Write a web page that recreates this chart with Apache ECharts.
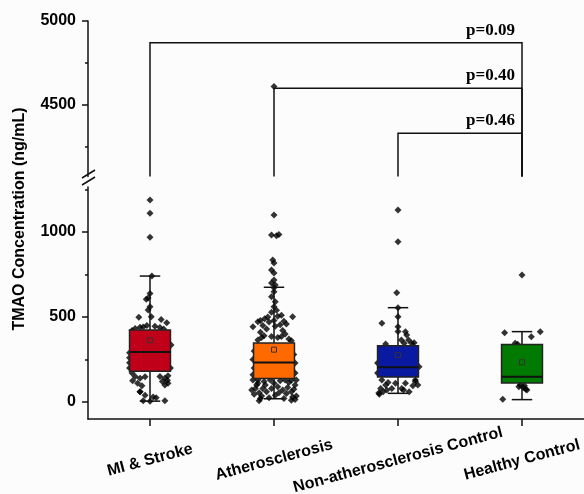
<!DOCTYPE html>
<html><head><meta charset="utf-8">
<script src="https://cdn.jsdelivr.net/npm/echarts@6/dist/echarts.min.js"></script>
<style>html,body{margin:0;padding:0;background:#fff}#c{width:584px;height:494px}</style>
</head><body><div id="c"></div>
<script>
// ---------- data ----------
const categories = ['MI & Stroke', 'Atherosclerosis', 'Non-atherosclerosis Control', 'Healthy Control'];
const whiskerLow  = [5, 19, 51, 14];
const q1          = [181, 139, 147, 112];
const medians     = [294, 233, 204, 149];
const q3          = [424, 347, 331, 339];
const whiskerHigh = [741, 675, 555, 414];
const means       = [363, 308, 276, 234];

// [jitter offset (category units), TMAO value]
const miPoints = [[0,1188],[0,1110],[0,969],[0.015,741],[0,639],[-0.015,612],[-0.03,605],[0,561],[-0.015,541],
  [-0.09,498],[0.01,502],[0.09,486],[0.135,467],[-0.025,450],[-0.08,440],[-0.055,442],[0.04,445],[0.08,438],
  [-0.12,432],[0.11,430],[-0.145,420],[0.17,335],[-0.165,290],[-0.165,231],[-0.165,200],[-0.145,170],[-0.12,150],
  [-0.08,140],[-0.04,148],[0.08,150],[0.12,140],[0.145,155],[-0.10,110],[-0.065,95],[0.10,120],[0.12,100],
  [0.145,110],[-0.08,60],[-0.04,40],[0.025,30],[0.05,25],[0.12,8],[-0.055,8],[0,5],[-0.165,260],[0.165,200],
  [-0.08,61],[0.14,128],[-0.14,125]];
const atheroPoints = [[0,4610],[0,1100],[-0.02,982],[0.02,978],[0.04,985],[-0.01,835],[0,818],[-0.02,776],[0,759],
  [0,718],[-0.02,700],[0.01,688],[0,672],[0,649],[-0.02,620],[0.01,590],[0,560],[0.02,540],[-0.02,528],
  [0.15,502],[-0.13,472],[-0.17,443],[0.10,459],
  [-0.075,490],[-0.05,500],[0.03,505],[0.06,510],[-0.09,450],[-0.06,430],[0.01,445],[0.05,455],[0.07,420],
  [0.09,400],[-0.11,410],[-0.10,380],[-0.08,390],[-0.02,385],[0.03,380],[0.06,385],[0.12,370],[-0.13,365],
  [0.14,360],[-0.04,470],[0,480],[0.08,475],[-0.11,480],
  [-0.16,300],[-0.17,250],[-0.16,200],[0.17,170],[0.17,230],[0.16,280],[-0.17,160],
  [-0.17,130],[-0.13,110],[-0.15,80],[-0.12,55],[-0.10,35],[-0.06,60],[-0.02,80],[0.03,90],[0.07,70],
  [0.10,50],[0.14,60],[0.17,100],[0.18,130],[0.15,30],[0.18,35],[-0.14,100],[-0.08,120],[0,110],[0.05,125],
  [0.12,115],[-0.16,45],[-0.11,20],[0.08,20],[-0.04,25],[0.11,85],[-0.09,80],[0.01,40],[0.04,55],[-0.07,100],
  [0.16,75],[-0.13,130],[0.09,130],[-0.03,130],[0.14,128],[-0.18,70],[0.17,15],[-0.12,8],[0.14,10]];
const nonAtheroPoints = [[0,1129],[0,943],[-0.01,643],[0,555],[0,502],[-0.13,463],[0,443],[0.06,414],[0.07,394],
  [0.027,365],[0.085,365],[0.11,345],[0.05,345],[-0.10,341],[0.13,349],[0,415],
  [-0.165,229],[-0.165,171],[0.17,208],[-0.13,129],[-0.10,100],[-0.14,80],[-0.155,53],[-0.09,70],[-0.05,80],
  [0.03,80],[0.06,110],[0.14,129],[0.14,120],[0.045,70],[-0.02,110],[-0.08,115],[-0.15,45],[0.12,95],
  [0.16,100],[-0.12,60],[0.09,60]];
const healthyPoints = [[0,747],[-0.14,408],[0.147,414],[0.075,384],[-0.055,345],[-0.035,340],[-0.015,100],
  [0.01,85],[0.04,70],[-0.025,90],[0.03,75],[-0.155,16],[0.02,95]];

const lowerTicks = [0, 500, 1000];
const lowerMinorTicks = [250, 750, 1250];
const upperTicks = [4500, 5000];
const upperMinorTicks = [4250, 4750];

const bracketFrom = [0, 1, 2];
const bracketTo = [3, 3, 3];
const bracketLevels = [4871, 4599, 4332];
const pLabels = ['p=0.09', 'p=0.40', 'p=0.46'];

// ---------- chart ----------
const LOWER_MIN = -100, LOWER_MAX = 1265, UPPER_MIN = 4075, UPPER_MAX = 5000;
const boxColors = ['#C00018', '#FF6A00', '#0A1AA0', '#007A00'];
const FONT = '"Liberation Sans", Arial, sans-serif';

const groups = [miPoints, atheroPoints, nonAtheroPoints, healthyPoints];
const lowerScatter = [], upperScatter = [];
groups.forEach((pts, i) => pts.forEach(([dx, v]) => {
  (v > LOWER_MAX ? upperScatter : lowerScatter).push([i + dx, v]);
}));
const boxData = categories.map((c, i) => [i, whiskerLow[i], q1[i], medians[i], q3[i], whiskerHigh[i], means[i]]);
const bracketData = bracketLevels.map((lv, k) => [bracketFrom[k], bracketTo[k], lv]);

function renderBox(params, api) {
  const i = api.value(0);
  const x = api.coord([i, 0])[0];
  const yLo = api.coord([i, api.value(1)])[1];
  const yQ1 = api.coord([i, api.value(2)])[1];
  const yMed = api.coord([i, api.value(3)])[1];
  const yQ3 = api.coord([i, api.value(4)])[1];
  const yHi = api.coord([i, api.value(5)])[1];
  const yMean = api.coord([i, api.value(6)])[1];
  const w = api.size([0.33, 0])[0];
  const cap = w / 4;
  const st = { stroke: '#111', lineWidth: 1.5 };
  return { type: 'group', children: [
    { type: 'line', shape: { x1: x, y1: yLo, x2: x, y2: yHi }, style: st },
    { type: 'line', shape: { x1: x - cap, y1: yLo, x2: x + cap, y2: yLo }, style: st },
    { type: 'line', shape: { x1: x - cap, y1: yHi, x2: x + cap, y2: yHi }, style: st },
    { type: 'rect', shape: { x: x - w / 2, y: yQ3, width: w, height: yQ1 - yQ3 },
      style: { fill: boxColors[params.dataIndex], stroke: '#222', lineWidth: 1.5 } },
    { type: 'line', shape: { x1: x - w / 2, y1: yMed, x2: x + w / 2, y2: yMed }, style: { stroke: '#111', lineWidth: 2 } },
    { type: 'rect', shape: { x: x - 2.5, y: yMean - 2.5, width: 5, height: 5 },
      style: { fill: 'none', stroke: '#333', lineWidth: 1 } }
  ]};
}

function renderBracket(params, api) {
  const a = api.value(0), b = api.value(1), lv = api.value(2);
  const p0 = api.coord([a, UPPER_MIN]), p1 = api.coord([a, lv]);
  const p2 = api.coord([b, lv]), p3 = api.coord([b, UPPER_MIN]);
  return { type: 'group', children: [
    { type: 'polyline', shape: { points: [p0, p1, p2, p3] }, style: { stroke: '#111', lineWidth: 1.5, fill: 'none' } },
    { type: 'text', x: p2[0] - 7, y: p2[1] - 4,
      style: { text: pLabels[params.dataIndex], font: 'bold 17px "Liberation Serif", "Times New Roman", serif',
               fill: '#000', align: 'right', verticalAlign: 'bottom' } }
  ]};
}

const axisLineStyle = { show: true, onZero: false, lineStyle: { color: '#111', width: 1.5 } };
function majorY(grid, min, max, ticks) {
  return { type: 'value', gridIndex: grid, min: min, max: max, position: 'left',
    axisLine: axisLineStyle, splitLine: { show: false },
    axisTick: { show: true, inside: false, length: 6, customValues: ticks, lineStyle: { color: '#111', width: 1.5 } },
    axisLabel: { show: true, customValues: ticks, margin: 12, color: '#000', fontWeight: 'bold', fontSize: 16,
      fontFamily: FONT, showMinLabel: true, showMaxLabel: true, formatter: v => String(v) } };
}
function minorY(grid, min, max, ticks) {
  return { type: 'value', gridIndex: grid, min: min, max: max, position: 'left',
    axisLine: { show: false, onZero: false }, splitLine: { show: false },
    axisTick: { show: true, inside: false, length: 3, customValues: ticks, lineStyle: { color: '#111', width: 1.5 } },
    axisLabel: { show: false, customValues: ticks } };
}

const chart = echarts.init(document.getElementById('c'), null, { renderer: 'canvas' });
chart.setOption({
  backgroundColor: '#fcfcfc',
  animation: false,
  grid: [
    { left: 88, right: 0, top: 21, height: 155.4, containLabel: false, outerBoundsMode: 'none' },
    { left: 88, right: 0, top: 187, height: 232, containLabel: false, outerBoundsMode: 'none' }
  ],
  xAxis: [
    { type: 'value', gridIndex: 0, min: -0.5, max: 3.5, show: false },
    { type: 'category', gridIndex: 1, data: categories, boundaryGap: true, position: 'bottom',
      axisLine: axisLineStyle,
      axisTick: { show: true, alignWithLabel: true, length: 7, lineStyle: { color: '#111', width: 1.5 } },
      axisLabel: { interval: 0, rotate: 15, align: 'center', verticalAlign: 'middle', margin: 41,
        color: '#000', fontWeight: 'bold', fontSize: 16, fontFamily: FONT },
      splitLine: { show: false } },
    { type: 'value', gridIndex: 1, min: -0.5, max: 3.5, show: false }
  ],
  yAxis: [
    majorY(0, UPPER_MIN, UPPER_MAX, upperTicks),
    minorY(0, UPPER_MIN, UPPER_MAX, upperMinorTicks),
    majorY(1, LOWER_MIN, LOWER_MAX, lowerTicks),
    minorY(1, LOWER_MIN, LOWER_MAX, lowerMinorTicks)
  ],
  graphic: [
    { type: 'text', x: 20, y: 219, rotation: Math.PI / 2,
      style: { text: 'TMAO Concentration (ng/mL)', font: 'bold 16px ' + FONT, fill: '#000',
               align: 'center', verticalAlign: 'middle' } },
    { type: 'line', shape: { x1: 82, y1: 178, x2: 95, y2: 170 }, style: { stroke: '#111', lineWidth: 1.5 } },
    { type: 'line', shape: { x1: 82, y1: 185, x2: 95, y2: 177 }, style: { stroke: '#111', lineWidth: 1.5 } }
  ],
  series: [
    { type: 'scatter', xAxisIndex: 2, yAxisIndex: 2, data: lowerScatter, symbol: 'diamond', symbolSize: 7,
      itemStyle: { color: '#000' }, z: 1, silent: true },
    { type: 'scatter', xAxisIndex: 0, yAxisIndex: 0, data: upperScatter, symbol: 'diamond', symbolSize: 7,
      itemStyle: { color: '#000' }, z: 1, silent: true },
    { type: 'custom', xAxisIndex: 2, yAxisIndex: 2, data: boxData, renderItem: renderBox, z: 3, silent: true },
    { type: 'custom', xAxisIndex: 0, yAxisIndex: 0, data: bracketData, renderItem: renderBracket, z: 3, silent: true, clip: false }
  ]
});
</script></body></html>
